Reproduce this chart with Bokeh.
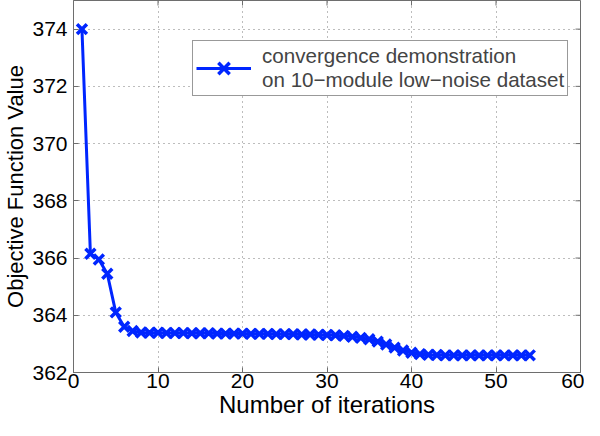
import math
from bokeh.plotting import figure
from bokeh.models import Range1d, FixedTicker, Legend, LegendItem
from bokeh.embed import file_html
from bokeh.resources import INLINE

iterations = list(range(1, 55))
objective = [
    374.0, 366.15, 365.95, 365.45, 364.1, 363.6, 363.45, 363.4, 363.39, 363.39,
    363.38, 363.38, 363.38, 363.37, 363.37, 363.37, 363.36, 363.36, 363.36, 363.36,
    363.35, 363.35, 363.35, 363.34, 363.34, 363.34, 363.33, 363.33, 363.32, 363.31,
    363.30, 363.28, 363.25, 363.21, 363.16, 363.08, 362.98, 362.87, 362.77, 362.69,
    362.64, 362.62, 362.61, 362.6, 362.6, 362.6, 362.6, 362.6, 362.6, 362.6,
    362.6, 362.6, 362.6, 362.6,
]
x_ticks = [0, 10, 20, 30, 40, 50, 60]
y_ticks = [362, 364, 366, 368, 370, 372, 374]
x_lim = (0, 60)
y_lim = (362, 375)
x_label = "Number of iterations"
y_label = "Objective Function Value"
legend_label = "convergence demonstration\non 10\u2212module low\u2212noise dataset"

FONT = "Liberation Sans"
AXC = "#6e6e6e"
BLUE = "#0026ff"

p = figure(width=584, height=420, output_backend="svg", toolbar_location=None,
           x_range=Range1d(*x_lim), y_range=Range1d(*y_lim),
           min_border_left=0, min_border_right=4, min_border_top=0,
           min_border_bottom=0)

p.outline_line_color = AXC
p.outline_line_width = 1

for ax, ticks in ((p.xaxis[0], x_ticks), (p.yaxis[0], y_ticks)):
    ax.ticker = FixedTicker(ticks=ticks)
    ax.major_tick_in = 5
    ax.major_tick_out = 0
    ax.minor_tick_in = 0
    ax.minor_tick_out = 0
    ax.axis_line_color = AXC
    ax.major_tick_line_color = AXC
    ax.major_label_text_font = FONT
    ax.major_label_text_font_size = "21px"
    ax.major_label_text_color = "black"
    ax.axis_label_text_font = FONT
    ax.axis_label_text_font_style = "normal"
    ax.axis_label_text_color = "black"

p.xaxis.axis_label = x_label
p.yaxis.axis_label = y_label
p.xaxis.axis_label_text_font_size = "24px"
p.yaxis.axis_label_text_font_size = "22px"
p.xaxis.major_label_standoff = 1
p.xaxis.axis_label_standoff = 0
p.yaxis.major_label_standoff = 6
p.yaxis.axis_label_standoff = 1

for g, ticks in ((p.xgrid[0], x_ticks), (p.ygrid[0], y_ticks)):
    g.ticker = FixedTicker(ticks=ticks)
    g.grid_line_color = "#7a7a7a"
    g.grid_line_dash = "1 4"
    g.grid_line_width = 1

# inward tick marks on the right and top edges of the box
p.scatter([x_lim[1]] * len(y_ticks), y_ticks, marker="dash", size=10,
          line_color=AXC, line_width=1)
p.scatter(x_ticks, [y_lim[1]] * len(x_ticks), marker="dash", angle=math.pi / 2,
          size=10, line_color=AXC, line_width=1)

line_r = p.line(iterations, objective, line_color=BLUE, line_width=3)
mark_r = p.scatter(iterations, objective, marker="x", size=14, line_color=BLUE,
                   line_width=3.5)

legend = Legend(items=[LegendItem(label=legend_label, renderers=[line_r, mark_r])],
                location=(119, 276), margin=0, padding=3, spacing=0,
                glyph_width=55, glyph_height=40, label_standoff=11,
                label_text_font=FONT, label_text_font_size="20.6px",
                label_text_line_height=1.2,
                border_line_color="#333333", border_line_width=1,
                background_fill_color="white", background_fill_alpha=1)
p.add_layout(legend)

open("out.html", "w").write(file_html(p, INLINE))
